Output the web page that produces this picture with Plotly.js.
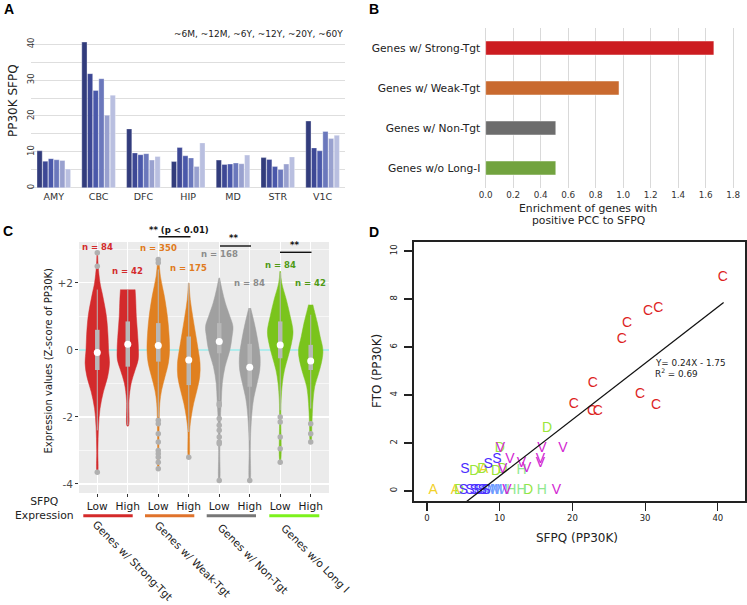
<!DOCTYPE html>
<html><head><meta charset="utf-8">
<script src="https://cdn.plot.ly/plotly-3.0.1.min.js"></script>
<style>html,body{margin:0;padding:0;background:#fff}#chart{width:747px;height:605px}</style>
</head><body><div id="chart"></div>
<script>
// ---------------- Panel A data ----------------
const regions = ['AMY','CBC','DFC','HIP','MD','STR','V1C'];
const ageNames = ['~6M','~12M','~6Y','~12Y','~20Y','~60Y'];
const age6M  = [10.3, 40.6, 16.4, 7.3, 7.7, 8.4, 18.6];
const age12M = [7.4, 31.8, 9.7, 11.2, 6.5, 7.9, 11.1];
const age6Y  = [8.1, 27.1, 9.2, 8.9, 6.6, 5.9, 10.3];
const age12Y = [7.8, 30.4, 9.5, 8.3, 6.9, 5.1, 15.7];
const age20Y = [7.6, 20.2, 7.7, 5.9, 6.7, 6.6, 13.7];
const age60Y = [5.2, 25.8, 8.7, 12.5, 9.1, 8.6, 14.6];
const ageColors = ['#323c7c','#3d4895','#4a58aa','#6b78bc','#99a1cf','#b9bfe0'];

// ---------------- Panel B data ----------------
const geneGroups = ['Genes w/ Strong-Tgt','Genes w/ Weak-Tgt','Genes w/ Non-Tgt','Genes w/o Long-I'];
const enrichment = [1.66, 0.97, 0.51, 0.51];
const groupColors = ['#cc1c20','#c96a2f','#6d6d6d','#72a33f'];

// ---------------- Panel C data ----------------
const exprLevels = ['Low','High','Low','High','Low','High','Low','High'];
const groupLabels = ['Genes w/ Strong-Tgt','Genes w/ Weak-Tgt','Genes w/ Non-Tgt','Genes w/o Long I'];
const nCounts = [84, 42, 350, 175, 168, 84, 84, 42];
const violinColors = ['#d32a2c','#d32a2c','#e08020','#e08020','#a0a0a0','#a0a0a0','#7ac41c','#7ac41c'];
const nColors = ['#d32a2c','#d32a2c','#e07a20','#e07a20','#8c8c8c','#8c8c8c','#4f9a16','#4f9a16'];
const underlineColors = ['#d42a2a','#e0732c','#777777','#7cf21c'];
// violin density profiles (y level, half width in category units)
const strongLowY  = [2.9, 2.5, 2.0, 1.65, 1.0, 0.45, 0, -0.4, -0.8, -1.25, -1.75, -2.3, -3.0, -3.65];
const strongLowW  = [0.01, 0.03, 0.09, 0.17, 0.30, 0.35, 0.37, 0.40, 0.34, 0.20, 0.09, 0.04, 0.02, 0.01];
const strongHighY = [1.8, 1.5, 1.0, 0.5, 0, -0.3, -0.6, -1.0, -1.5, -2.27];
const strongHighW = [0.24, 0.26, 0.28, 0.32, 0.35, 0.34, 0.24, 0.11, 0.04, 0.02];
const weakLowY    = [2.7, 2.2, 1.6, 1.0, 0.5, 0, -0.4, -0.8, -1.2, -1.6, -2.2, -3.0, -3.55];
const weakLowW    = [0.02, 0.07, 0.20, 0.30, 0.35, 0.37, 0.33, 0.22, 0.11, 0.05, 0.03, 0.02, 0.01];
const weakHighY   = [2.0, 1.5, 1.0, 0.5, 0, -0.4, -0.8, -1.2, -1.6, -2.0, -2.4, -3.2];
const weakHighW   = [0.01, 0.05, 0.13, 0.22, 0.31, 0.37, 0.36, 0.27, 0.16, 0.08, 0.03, 0.01];
const nonLowY     = [2.15, 1.8, 1.4, 1.0, 0.7, 0.4, 0, -0.5, -1.0, -1.5, -2.0, -3.0, -3.9];
const nonLowW     = [0.01, 0.09, 0.20, 0.35, 0.45, 0.42, 0.35, 0.19, 0.10, 0.07, 0.04, 0.02, 0.01];
const nonHighY    = [1.25, 0.8, 0.3, -0.2, -0.6, -1.0, -1.4, -1.8, -2.5, -3.0, -3.9];
const nonHighW    = [0.03, 0.15, 0.26, 0.34, 0.33, 0.24, 0.14, 0.08, 0.03, 0.02, 0.01];
const woLowY      = [2.35, 2.0, 1.5, 1.0, 0.55, 0.2, -0.2, -0.6, -1.0, -1.5, -2.0, -3.3];
const woLowW      = [0.01, 0.05, 0.20, 0.33, 0.42, 0.37, 0.26, 0.14, 0.07, 0.03, 0.02, 0.01];
const woHighY     = [1.35, 1.2, 0.8, 0.4, 0, -0.3, -0.7, -1.1, -1.6, -2.2, -2.75];
const woHighW     = [0.07, 0.11, 0.22, 0.31, 0.40, 0.37, 0.26, 0.13, 0.07, 0.04, 0.01];
// box statistics
const q1s       = [-0.6, -0.5, -0.35, -1.05, -0.1, -1.1, -0.25, -0.6];
const q3s       = [0.6, 0.85, 0.8, 0.4, 0.8, 0.18, 0.85, 0.15];
const whiskerLo = [-2.4, -2.25, -2.0, -2.45, -1.5, -2.7, -1.8, -1.75];
const whiskerHi = [1.8, 1.8, 2.4, 2.0, 2.1, 1.25, 2.3, 1.05];
const medians   = [-0.08, 0.17, 0.13, -0.3, 0.25, -0.52, 0.15, -0.33];
// outliers
const strongLowOut  = [2.9, 2.5, -3.65];
const strongHighOut = [];
const weakLowOut    = [2.7, 2.6, -2.1, -2.2, -2.5, -2.75, -3.0, -3.1, -3.2, -3.35, -3.55];
const weakHighOut   = [-3.2];
const nonLowOut     = [-1.6, -1.65, -2.05, -2.25, -2.4, -2.6, -2.75, -2.8, -3.9];
const nonHighOut    = [-3.9];
const woLowOut      = [-2.0, -2.15, -2.6, -2.95, -3.35];
const woHighOut     = [-2.2, -2.5, -2.75];

// ---------------- Panel D data ----------------
const amyX = [0.85, 3.9, 7.8];            const amyY = [0, 0, 0.88];
const cbcX = [40.7, 31.8, 30.4, 27.5, 26.8, 22.8, 20.2, 22.7, 23.5, 29.3, 31.5];
const cbcY = [8.9, 7.6, 7.46, 6.96, 6.3, 4.46, 3.6, 3.3, 3.3, 4.03, 3.58];
const dfcX = [4.4, 6.5, 7.6, 9.5, 10.0, 10.4, 13.9, 16.5];
const dfcY = [0, 0.8, 0.88, 0.8, 1.78, 0.88, 0, 2.62];
const hipX = [11.6, 13.0, 13.0, 15.8];    const hipY = [0, 0, 0.87, 0];
const mdX  = [7.2, 8.4, 9.0, 9.6, 10.3];  const mdY  = [0, 0, 0, 0, 0];
const strX = [5.0, 5.9, 6.5, 7.0, 7.6, 8.1, 5.2, 8.4, 9.6];
const strY = [0, 0, 0, 0, 0, 0, 0.9, 1.12, 1.29];
const v1cX = [11.0, 17.8, 10.1, 11.4, 13.0, 13.7, 15.6, 15.6, 15.8, 18.7, 10.4];
const v1cY = [0, 0, 1.76, 1.29, 1.15, 0.94, 1.15, 1.32, 1.78, 1.78, 0.9];
const fitX = [5.45, 40.8];
const fitY = [-0.44, 7.85];

// ---------------- helpers ----------------
const W = 747, H = 605;
const px = v => v / W;
const py = v => 1 - v / H;
const FONT = 'DejaVu Sans, sans-serif';

const traces = [];
// Panel A bars
[age6M, age12M, age6Y, age12Y, age20Y, age60Y].forEach((vals, i) => {
  traces.push({type:'bar', x: regions, y: vals, name: ageNames[i], xaxis:'x', yaxis:'y',
    marker:{color: ageColors[i], line:{color:'rgba(255,255,255,0.55)', width:0.6}}, hoverinfo:'skip'});
});
// Panel B bars
traces.push({type:'bar', orientation:'h', x: enrichment, y: geneGroups, xaxis:'x2', yaxis:'y2', width:0.35,
  marker:{color: groupColors, line:{color:'rgba(255,255,255,0.6)', width:0.8}}, hoverinfo:'skip'});

// Panel C violins
const violinYs = [strongLowY, strongHighY, weakLowY, weakHighY, nonLowY, nonHighY, woLowY, woHighY];
const violinWs = [strongLowW, strongHighW, weakLowW, weakHighW, nonLowW, nonHighW, woLowW, woHighW];
const outliers = [strongLowOut, strongHighOut, weakLowOut, weakHighOut, nonLowOut, nonHighOut, woLowOut, woHighOut];
const positions = [1,2,3,4,5,6,7,8];
positions.forEach((p, i) => {
  const ys = violinYs[i], ws = violinWs[i];
  const vx = [], vy = [];
  for (let k = 0; k < ys.length; k++) { vx.push(p + ws[k]); vy.push(ys[k]); }
  for (let k = ys.length - 1; k >= 0; k--) { vx.push(p - ws[k]); vy.push(ys[k]); }
  traces.push({type:'scatter', mode:'lines', x: vx, y: vy, xaxis:'x3', yaxis:'y3', fill:'toself',
    fillcolor: violinColors[i], line:{color: violinColors[i], width:0.5, shape:'spline', smoothing:1}, hoverinfo:'skip'});
});
const wX = [], wY = [], bX = [], bY = [], oX = [], oY = [];
positions.forEach((p, i) => {
  wX.push(p, p, null); wY.push(whiskerLo[i], whiskerHi[i], null);
  bX.push(p, p, null); bY.push(q1s[i], q3s[i], null);
  outliers[i].forEach(v => { oX.push(p); oY.push(v); });
});
traces.push({type:'scatter', mode:'lines', x:wX, y:wY, xaxis:'x3', yaxis:'y3', line:{color:'#b8b8b8', width:1}, hoverinfo:'skip'});
traces.push({type:'scatter', mode:'lines', x:bX, y:bY, xaxis:'x3', yaxis:'y3', line:{color:'#b8b8b8', width:4.5}, hoverinfo:'skip'});
traces.push({type:'scatter', mode:'markers', x:oX, y:oY, xaxis:'x3', yaxis:'y3', marker:{color:'#b0b0b0', size:5.5}, hoverinfo:'skip'});
traces.push({type:'scatter', mode:'markers', x:positions, y:medians, xaxis:'x3', yaxis:'y3', marker:{color:'#ffffff', size:7}, hoverinfo:'skip'});

// Panel D letters
const letterSets = [
  ['A', amyX, amyY, '#f2d12b'],
  ['D', dfcX, dfcY, '#9ae63a'],
  ['H', hipX, hipY, '#8fe88f'],
  ['M', mdX, mdY, '#6f9bff'],
  ['S', strX, strY, '#4b2dff'],
  ['V', v1cX, v1cY, '#d21fd2'],
  ['C', cbcX, cbcY, '#dd1f1f']
];
letterSets.forEach(s => {
  traces.push({type:'scatter', mode:'text', x: s[1], y: s[2], text: s[1].map(() => s[0]), xaxis:'x4', yaxis:'y4',
    textposition:'middle center', textfont:{family:'Liberation Sans, Arial, sans-serif', size:14, color:s[3]}, hoverinfo:'skip', cliponaxis:false});
});
traces.push({type:'scatter', mode:'lines', x: fitX, y: fitY, xaxis:'x4', yaxis:'y4', line:{color:'#111', width:1.3}, hoverinfo:'skip'});

// ---------------- layout ----------------
const nLabelY = [3.07, 2.36, 3.04, 2.45, 2.87, 2.0, 2.54, 2.0];
const annotations = [];
const ann = (o) => annotations.push(Object.assign({xref:'paper', yref:'paper', showarrow:false, xanchor:'center', yanchor:'middle'}, o));
// panel letters
ann({text:'<b>A</b>', x:px(8.5), y:py(9), font:{family:'Liberation Sans, Arial', size:14, color:'#000'}});
ann({text:'<b>B</b>', x:px(374), y:py(9), font:{family:'Liberation Sans, Arial', size:14, color:'#000'}});
ann({text:'<b>C</b>', x:px(8), y:py(231), font:{family:'Liberation Sans, Arial', size:14, color:'#000'}});
ann({text:'<b>D</b>', x:px(374), y:py(232), font:{family:'Liberation Sans, Arial', size:14, color:'#000'}});
// panel A
ann({text: ageNames.join(', '), x:px(345), y:py(34), xanchor:'right', font:{family:FONT, size:9, color:'#222'}});
ann({text:'PP30K SFPQ', x:px(13), y:py(101), textangle:-90, font:{family:FONT, size:12, color:'#222'}});
// panel B
ann({text:'Enrichment of genes with', x:px(588), y:py(208.5), font:{family:FONT, size:10.8, color:'#222'}});
ann({text:'positive PCC to SFPQ', x:px(588), y:py(220.5), font:{family:FONT, size:10.8, color:'#222'}});
// panel C
ann({text:'Expression values (Z-score of PP30K)', x:px(48), y:py(360.5), textangle:-90, font:{family:FONT, size:10, color:'#222'}});
ann({text:'SFPQ<br>Expression', x:px(44), y:py(508), font:{family:FONT, size:10.8, color:'#222'}});
const rotCenters = [[133.3, 560.8], [192.5, 559], [253.3, 559], [315, 558.3]];
groupLabels.forEach((g, i) => ann({text:g, x:px(rotCenters[i][0]), y:py(rotCenters[i][1]), textangle:45, font:{family:FONT, size:10.6, color:'#222'}}));
positions.forEach((p, i) => annotations.push({xref:'x3', yref:'y3', x:p, y:nLabelY[i], text:'<b>n = ' + nCounts[i] + '</b>',
  showarrow:false, xanchor:'center', yanchor:'middle', font:{family:FONT, size:8.5, color:nColors[i]}}));
ann({text:'<b>** (p < 0.01)</b>', x:px(179), y:py(230), font:{family:FONT, size:8.5, color:'#111'}});
ann({text:'<b>**</b>', x:px(233.5), y:py(238.5), font:{family:FONT, size:8.5, color:'#111'}});
ann({text:'<b>**</b>', x:px(294), y:py(244.5), font:{family:FONT, size:8.5, color:'#111'}});
// panel D
ann({text:'SFPQ (PP30K)', x:px(577), y:py(538), font:{family:FONT, size:12, color:'#222'}});
ann({text:'FTO (PP30K)', x:px(377), y:py(371), textangle:-90, font:{family:FONT, size:12, color:'#222'}});
annotations.push({xref:'x4', yref:'y4', x:31.1, y:5.33, text:'Y= 0.24X - 1.75', showarrow:false, xanchor:'left', yanchor:'middle', font:{family:FONT, size:8.8, color:'#222'}});
annotations.push({xref:'x4', yref:'y4', x:31.1, y:4.92, text:'R<sup>2</sup> = 0.69', showarrow:false, xanchor:'left', yanchor:'middle', font:{family:FONT, size:8.8, color:'#222'}});

const shapes = [
  {type:'rect', xref:'x3 domain', yref:'y3 domain', x0:0, x1:1, y0:0, y1:1, fillcolor:'#ebebeb', line:{width:0}, layer:'below'},
  {type:'line', xref:'paper', yref:'paper', x0:px(158.5), x1:px(190.5), y0:py(236.7), y1:py(236.7), line:{color:'#111', width:1.4}},
  {type:'line', xref:'paper', yref:'paper', x0:px(220), x1:px(251), y0:py(246), y1:py(246), line:{color:'#111', width:1.4}},
  {type:'line', xref:'paper', yref:'paper', x0:px(280), x1:px(311.5), y0:py(252.3), y1:py(252.3), line:{color:'#111', width:1.4}}
];
const ulX = [[83.3, 132.7], [145, 194.3], [206.7, 256], [269.3, 319.3]];
ulX.forEach((u, i) => shapes.push({type:'line', xref:'paper', yref:'paper', x0:px(u[0]), x1:px(u[1]), y0:py(515.7), y1:py(515.7), line:{color:underlineColors[i], width:3}}));

const layout = {
  width: W, height: H, margin:{l:0, r:0, t:0, b:0},
  paper_bgcolor:'#ffffff', plot_bgcolor:'rgba(0,0,0,0)', showlegend:false,
  font:{family:FONT, size:10, color:'#333'},
  barmode:'group', bargap:0.24, bargroupgap:0.08,
  xaxis:{domain:[px(31.4), px(345)], anchor:'y', type:'category', range:[-0.5, 6.5], ticks:'', showgrid:false, zeroline:false,
    tickfont:{family:FONT, size:9.5, color:'#333'}},
  yaxis:{domain:[py(189), py(27)], anchor:'x', range:[-0.35, 44.8], tickvals:[0,10,20,30,40], tickangle:-90, ticks:'',
    showgrid:true, gridcolor:'#dedede', gridwidth:1, zeroline:false, ticklabelstandoff:-5, tickfont:{family:FONT, size:8.5, color:'#333'},
    minor:{tickvals:[5,15,25,35], showgrid:true, gridcolor:'#dedede', gridwidth:1, ticks:''}},
  xaxis2:{domain:[px(484.3), px(740)], anchor:'y2', range:[-0.01, 1.85], tickvals:[0,0.2,0.4,0.6,0.8,1.0,1.2,1.4,1.6,1.8], tickformat:'.1f',
    ticks:'', showgrid:true, gridcolor:'#d9d9d9', gridwidth:1, zeroline:false, tickfont:{family:FONT, size:8.8, color:'#333'}},
  yaxis2:{domain:[py(188), py(28)], anchor:'x2', type:'category', categoryorder:'array', categoryarray:geneGroups, range:[3.5, -0.5],
    ticks:'', showgrid:false, zeroline:false, ticklabelstandoff:3, tickfont:{family:FONT, size:10.7, color:'#222'}},
  xaxis3:{domain:[px(79), px(329)], anchor:'y3', range:[0.4, 8.6], tickvals:positions, ticktext:exprLevels,
    ticks:'outside', ticklen:3, tickcolor:'#333', tickwidth:1, showgrid:true, gridcolor:'#ffffff', gridwidth:1.2, zeroline:false,
    tickfont:{family:FONT, size:10.6, color:'#1a1a1a'}},
  yaxis3:{domain:[py(493), py(242)], anchor:'x3', range:[-4.27, 3.22], tickvals:[-4,-2,0,2], ticktext:['-4','-2','0','+2'],
    ticks:'outside', ticklen:3, tickcolor:'#333', tickwidth:1, showgrid:true, gridcolor:'#ffffff', gridwidth:1.2,
    minor:{tickvals:[-3,-1,1,3], showgrid:true, gridcolor:'#ffffff', gridwidth:0.6, ticks:''},
    zeroline:true, zerolinecolor:'#b0ecec', zerolinewidth:1.3, tickfont:{family:FONT, size:10.5, color:'#4d4d4d'}},
  xaxis4:{domain:[px(414), px(745)], anchor:'y4', range:[-1.79, 43.74], tickvals:[0,10,20,30,40],
    ticks:'outside', ticklen:8, tickwidth:1.2, tickcolor:'#222', showline:true, linecolor:'#222', linewidth:1.6, mirror:true,
    showgrid:false, zeroline:false, tickfont:{family:FONT, size:8.5, color:'#222'}},
  yaxis4:{domain:[py(501), py(242)], anchor:'x4', range:[-0.42, 10.375], tickvals:[0,2,4,6,8,10], tickangle:-90,
    ticks:'outside', ticklen:8, tickwidth:1.2, tickcolor:'#222', showline:true, linecolor:'#222', linewidth:1.6, mirror:true,
    showgrid:false, zeroline:false, ticklabelstandoff:4, tickfont:{family:FONT, size:8.5, color:'#222'}},
  annotations: annotations,
  shapes: shapes
};

Plotly.newPlot('chart', traces, layout, {displayModeBar:false, staticPlot:true});
</script>
</body></html>
